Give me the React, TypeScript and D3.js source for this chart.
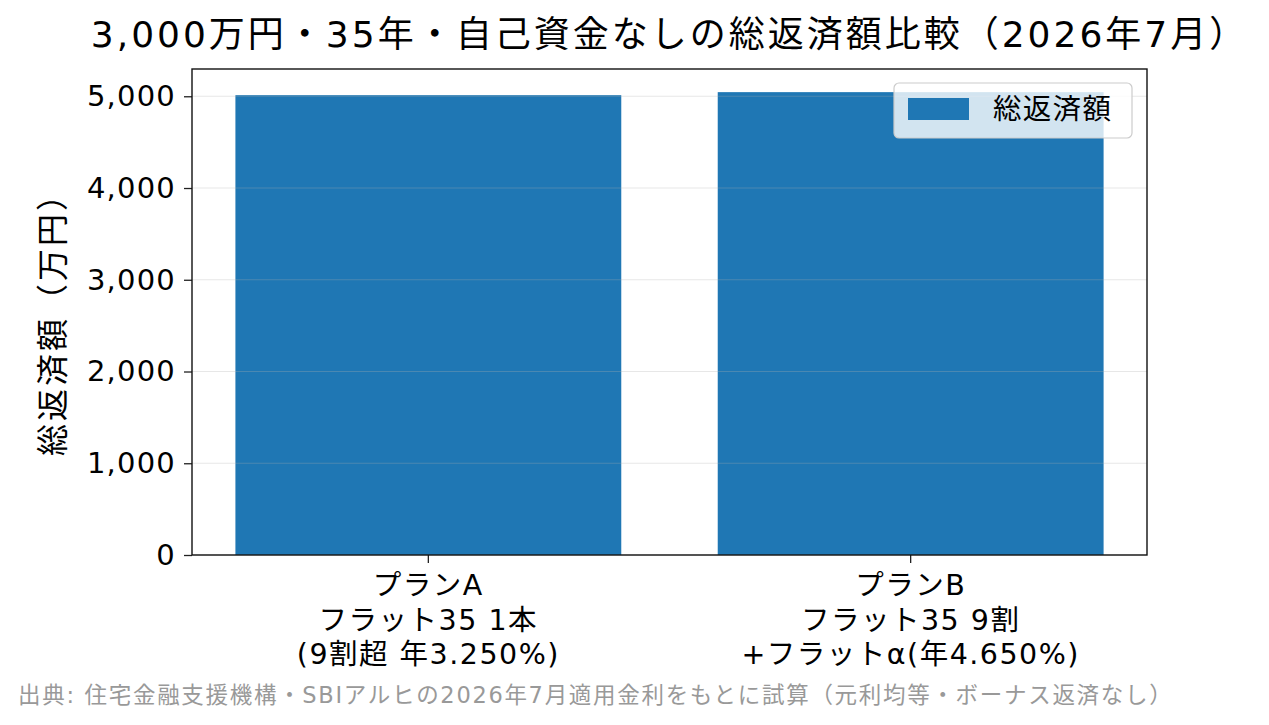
import React, { useRef, useEffect } from "react";
import * as d3 from "d3";

const categories = ["A", "B"];
const categoryLabels = [
  ["プランA", "フラット35 1本", "(9割超 年3.250%)"],
  ["プランB", "フラット35 9割", "+フラットα(年4.650%)"],
];
const totals = [5012, 5045];
const yTicks = [0, 1000, 2000, 3000, 4000, 5000];

const title = "3,000万円・35年・自己資金なしの総返済額比較（2026年7月）";
const yTitle = "総返済額（万円）";
const legendLabel = "総返済額";
const footer =
  "出典: 住宅金融支援機構・SBIアルヒの2026年7月適用金利をもとに試算（元利均等・ボーナス返済なし）";

const FONT = "'DejaVu Sans', 'Noto Sans CJK JP', sans-serif";

function App() {
  const ref = useRef<SVGSVGElement>(null);

  useEffect(() => {
    document.body.style.margin = "0";
    const svg = d3.select(ref.current);
    svg.selectAll("*").remove();

    const W = 1269;
    const H = 725;
    const margin = { top: 69, right: 122, bottom: 170, left: 192 };
    const width = W - margin.left - margin.right;
    const height = H - margin.top - margin.bottom;

    svg.attr("width", W).attr("height", H).style("font-family", FONT);
    svg.append("rect").attr("width", W).attr("height", H).attr("fill", "#fff");

    const g = svg
      .append("g")
      .attr("transform", `translate(${margin.left},${margin.top})`);

    // bars centred at 0 and 1, width 0.8, with 5% margins like matplotlib
    const x = d3.scaleLinear().domain([-0.49, 1.49]).range([0, width]);
    const ymax = d3.max(totals)! * 1.05;
    const y = d3.scaleLinear().domain([0, ymax]).range([height, 0]);
    const barW = x(0.8) - x(0);

    g.selectAll("rect.bar")
      .data(totals)
      .enter()
      .append("rect")
      .attr("class", "bar")
      .attr("x", (d, i) => x(i) - barW / 2)
      .attr("y", (d) => y(d))
      .attr("width", barW)
      .attr("height", (d) => height - y(d))
      .attr("fill", "#1f77b4");

    // grid lines sit above the bars, translucent
    g.selectAll("line.grid")
      .data(yTicks)
      .enter()
      .append("line")
      .attr("x1", 0)
      .attr("x2", width)
      .attr("y1", (d) => y(d))
      .attr("y2", (d) => y(d))
      .attr("stroke", "#b0b0b0")
      .attr("stroke-opacity", 0.3)
      .attr("stroke-width", 1.2);

    // y axis
    const yAxis = g
      .append("g")
      .call(
        d3
          .axisLeft(y)
          .tickValues(yTicks)
          .tickFormat(d3.format(","))
          .tickSize(8)
          .tickPadding(8)
      );
    yAxis.select(".domain").remove();
    yAxis.selectAll("line").attr("stroke", "#222").attr("stroke-width", 1.3);
    yAxis
      .selectAll("text")
      .attr("font-size", 29)
      .attr("letter-spacing", 1.2)
      .attr("font-family", FONT)
      .attr("fill", "#000");

    // x axis ticks + multi-line labels
    const xt = g
      .selectAll("g.xtick")
      .data(categories)
      .enter()
      .append("g")
      .attr("class", "xtick")
      .attr("transform", (d, i) => `translate(${x(i)},${height})`);
    xt.append("line")
      .attr("y1", 0)
      .attr("y2", 8)
      .attr("stroke", "#222")
      .attr("stroke-width", 1.3);
    xt.each(function (d, i) {
      const t = d3
        .select(this)
        .append("text")
        .attr("text-anchor", "middle")
        .attr("font-size", 28.5)
        .attr("letter-spacing", 1.5)
        .attr("fill", "#000");
      categoryLabels[i].forEach((line, j) => {
        t.append("tspan").attr("x", 0).attr("y", 40 + j * 34.5).text(line);
      });
    });

    // frame
    g.append("rect")
      .attr("width", width)
      .attr("height", height)
      .attr("fill", "none")
      .attr("stroke", "#111")
      .attr("stroke-width", 1.4);

    // y title
    g.append("text")
      .attr("transform", `translate(-128,${height / 2 + 4}) rotate(-90)`)
      .attr("text-anchor", "middle")
      .attr("font-size", 32)
      .attr("letter-spacing", 3)
      .attr("fill", "#000")
      .text(yTitle);

    // title
    svg
      .append("text")
      .attr("x", margin.left + width / 2)
      .attr("y", 47)
      .attr("text-anchor", "middle")
      .attr("font-size", 36)
      .attr("letter-spacing", 3)
      .attr("fill", "#000")
      .text(title);

    // legend
    const lg = g.append("g").attr("transform", `translate(${702},14)`);
    lg.append("rect")
      .attr("width", 238)
      .attr("height", 55)
      .attr("rx", 5)
      .attr("fill", "#fff")
      .attr("fill-opacity", 0.8)
      .attr("stroke", "#ccc")
      .attr("stroke-width", 1.2);
    lg.append("rect")
      .attr("x", 14)
      .attr("y", 15)
      .attr("width", 61)
      .attr("height", 22)
      .attr("fill", "#1f77b4");
    lg.append("text")
      .attr("x", 99)
      .attr("y", 36)
      .attr("font-size", 28.5)
      .attr("letter-spacing", 1.3)
      .attr("fill", "#000")
      .text(legendLabel);

    // footer
    svg
      .append("text")
      .attr("x", 18)
      .attr("y", 703)
      .attr("font-size", 22.5)
      .attr("letter-spacing", 1.7)
      .attr("fill", "#999")
      .text(footer);
  }, []);

  return <svg ref={ref} style={{ display: "block" }}></svg>;
}

export default App;
